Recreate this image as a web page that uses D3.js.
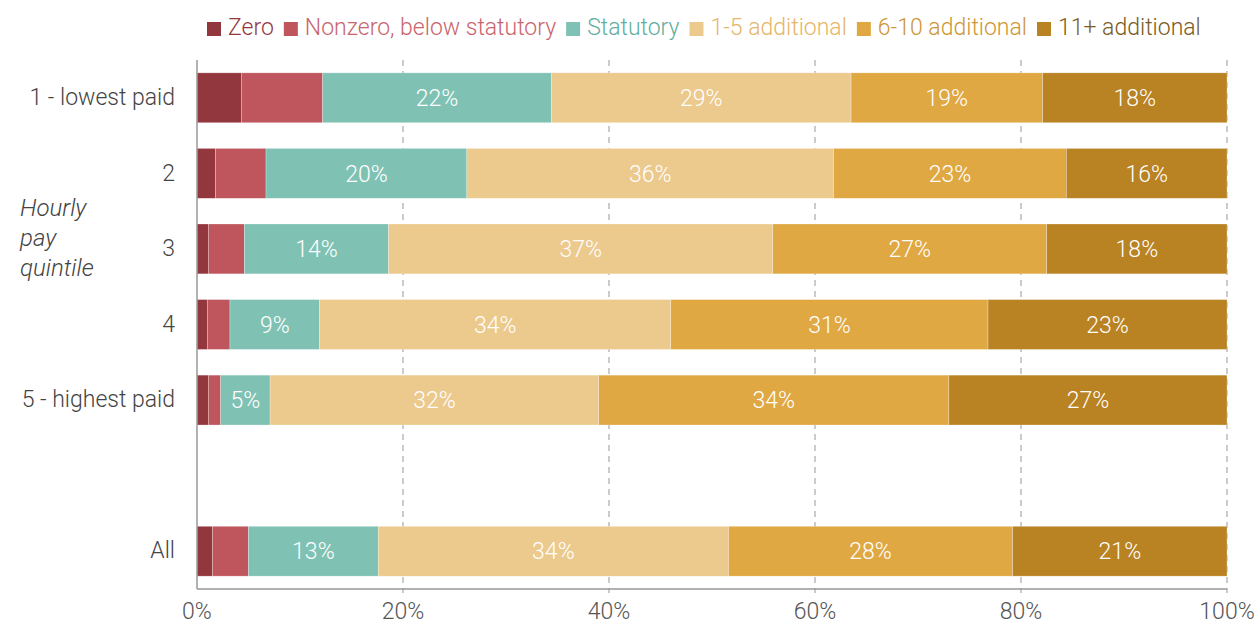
<!DOCTYPE html>
<html>
<head>
<meta charset="utf-8">
<script src="https://cdn.jsdelivr.net/npm/d3@7"></script>
<style>
  html, body { margin: 0; padding: 0; background: #fff; }
  svg { display: block; font-family: Roboto, "Noto Sans", sans-serif; }
</style>
</head>
<body>
<svg id="chart" width="1257" height="625"></svg>
<script>
// ---- data ----
const categories = ["1 - lowest paid", "2", "3", "4", "5 - highest paid", "", "All"];
const seriesNames = ["Zero", "Nonzero, below statutory", "Statutory", "1-5 additional", "6-10 additional", "11+ additional"];
const zeroVals      = [4.3, 1.8, 1.1, 1.0, 1.1, null, 1.5];
const nonzeroVals   = [7.9, 4.9, 3.5, 2.2, 1.2, null, 3.5];
const statutoryVals = [22.2, 19.5, 14.0, 8.7, 4.8, null, 12.6];
const add1to5Vals   = [29.1, 35.6, 37.3, 34.1, 31.9, null, 34.0];
const add6to10Vals  = [18.6, 22.6, 26.6, 30.8, 34.0, null, 27.6];
const add11Vals     = [17.9, 15.6, 17.5, 23.2, 27.0, null, 20.8];
const xTicks = [0, 20, 40, 60, 80, 100];
const labelledSeries = ["Statutory", "1-5 additional", "6-10 additional", "11+ additional"];

// ---- styles ----
const colors = ["#93373e", "#bf555d", "#7fc2b4", "#ecc98d", "#dfa843", "#b98222"];
const legendTextColors = ["#93373e", "#c9646c", "#5fae9f", "#e6b569", "#cd9634", "#7a5a22"];
const FS = 23;

const svg = d3.select("#chart");
const margin = { left: 197, right: 30, top: 60, bottom: 36 };
const W = 1257, H = 625;
const x = d3.scaleLinear().domain([0, 100]).range([margin.left, W - margin.right]);
const y = d3.scaleBand().domain(categories).range([margin.top, H - margin.bottom])
  .paddingInner(0.34).paddingOuter(0.17);

const allVals = [zeroVals, nonzeroVals, statutoryVals, add1to5Vals, add6to10Vals, add11Vals];
const rows = categories.map((c, i) => {
  const o = { cat: c };
  seriesNames.forEach((s, j) => o[s] = allVals[j][i] == null ? 0 : allVals[j][i]);
  return o;
}).filter(r => r.cat !== "");
const stacked = d3.stack().keys(seriesNames)(rows);

// gridlines (dashed)
const yBottom = H - margin.bottom;
svg.append("g").selectAll("line").data(xTicks.filter(t => t > 0)).join("line")
  .attr("x1", d => x(d)).attr("x2", d => x(d))
  .attr("y1", margin.top).attr("y2", yBottom + 4)
  .attr("stroke", "#a8a8a8").attr("stroke-width", 1.2).attr("stroke-dasharray", "6,5");

// bars
const layers = svg.append("g").selectAll("g").data(stacked).join("g")
  .attr("fill", (d, i) => colors[i]);
layers.selectAll("rect").data(d => d.map(v => Object.assign(v, { key: d.key }))).join("rect")
  .attr("x", d => x(d[0]))
  .attr("width", d => Math.max(0, x(d[1]) - x(d[0])))
  .attr("y", d => y(d.data.cat))
  .attr("height", y.bandwidth())
  .attr("stroke", "rgba(255,255,255,0.45)").attr("stroke-width", 0.6);

// value labels
layers.filter(d => labelledSeries.includes(d.key)).selectAll("text")
  .data(d => d).join("text")
  .attr("x", d => (x(d[0]) + x(d[1])) / 2)
  .attr("y", d => y(d.data.cat) + y.bandwidth() / 2)
  .attr("dy", "0.36em")
  .attr("text-anchor", "middle")
  .attr("fill", "#fff")
  .attr("font-size", FS).attr("font-weight", 300)
  .text(d => Math.round(d[1] - d[0]) + "%");

// axes lines
svg.append("line").attr("x1", x(0)).attr("x2", x(100)).attr("y1", yBottom).attr("y2", yBottom)
  .attr("stroke", "#999").attr("stroke-width", 1.5);
svg.append("line").attr("x1", x(0)).attr("x2", x(0)).attr("y1", margin.top).attr("y2", yBottom)
  .attr("stroke", "#999").attr("stroke-width", 1.5);

// x tick labels
svg.append("g").selectAll("text").data(xTicks).join("text")
  .attr("x", d => x(d)).attr("y", 619)
  .attr("text-anchor", "middle").attr("fill", "#555")
  .attr("font-size", FS).attr("font-weight", 300)
  .text(d => d + "%");

// y category labels
svg.append("g").selectAll("text").data(categories.filter(c => c !== "")).join("text")
  .attr("x", 175).attr("y", d => y(d) + y.bandwidth() / 2 - 1).attr("dy", "0.36em")
  .attr("text-anchor", "end").attr("fill", "#444")
  .attr("font-size", FS).attr("font-weight", 300)
  .text(d => d);

// axis title
const title = svg.append("text").attr("x", 20).attr("y", 216)
  .attr("fill", "#444").attr("font-size", 24).attr("font-weight", 300).attr("font-style", "italic");
["Hourly", "pay", "quintile"].forEach((t, i) => title.append("tspan").attr("x", 20).attr("dy", i === 0 ? 0 : 30).text(t));

// legend
const lg = svg.append("g");
let lx = 207;
seriesNames.forEach((s, i) => {
  lg.append("rect").attr("x", lx).attr("y", 22).attr("width", 14).attr("height", 14).attr("fill", colors[i]);
  const t = lg.append("text").attr("x", lx + 21).attr("y", 27).attr("dy", "0.36em")
    .attr("fill", legendTextColors[i]).attr("font-size", FS).attr("font-weight", 300).text(s);
  lx = lx + 21 + t.node().getComputedTextLength() + 10;
});
</script>
</body>
</html>
